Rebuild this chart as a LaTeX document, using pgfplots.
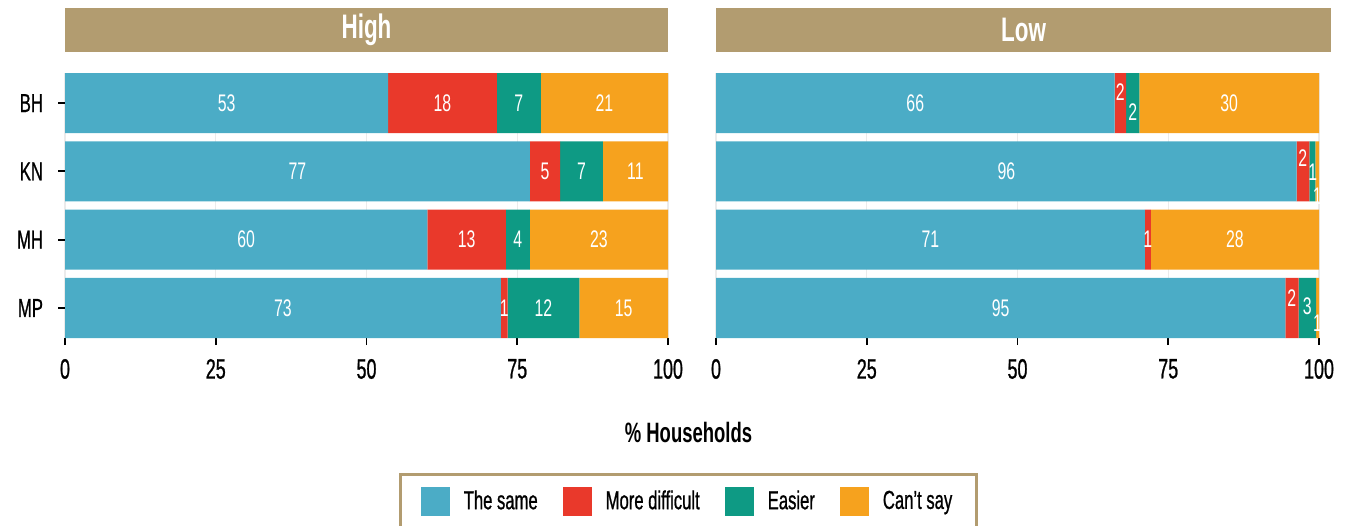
\documentclass[border=0pt]{standalone}
\usepackage{pgfplots}
\pgfplotsset{compat=1.18}
\usepackage{fontspec}
\setmainfont{Liberation Sans}[FakeStretch=0.66]
\newfontfamily\medfont{Liberation Sans}[FakeStretch=0.64, FakeBold=0.8]
\definecolor{csame}{RGB}{75,172,198}
\definecolor{cdiff}{RGB}{233,57,43}
\definecolor{ceasy}{RGB}{14,154,132}
\definecolor{ccant}{RGB}{246,162,30}
\definecolor{striptan}{RGB}{178,156,112}
\pgfplotsset{
  geom/.style={
    scale only axis, width=301.5pt, height=132.5pt,
    xmin=0, xmax=100, ymin=-0.44, ymax=3.44, y dir=reverse,
    enlargelimits=false,
  },
  panel/.style={
    geom,
    xbar stacked, bar width=0.88,
    xtick={0,25,50,75,100}, xticklabels={0,25,50,75,100},
    ytick={0,1,2,3},
    axis x line*=bottom, axis y line*=left, axis line style={draw=none},
    tick align=outside, major tick length=3.5pt,
    tick style={black, line width=0.9pt},
    xmajorgrids, grid style={black!8, line width=0.6pt},
    xticklabel style={font=\medfont\fontsize{14}{16}\selectfont, yshift=-3.5pt},
    yticklabel style={font=\medfont\fontsize{13}{15}\selectfont},
    every axis title/.style={at={(0.5,1)}, anchor=south, yshift=10.5pt,
      fill=striptan, text=white, inner sep=0pt, minimum height=22pt,
      font=\bfseries\fontsize{17}{19}\selectfont},
  },
  labpanel/.style={
    geom, hide axis, clip=false,
  },
  labs/.style={only marks, mark=none, nodes near coords, point meta=explicit symbolic,
    nodes near coords style={anchor=center, text=white, inner sep=0pt,
      font=\fontsize{12}{14}\selectfont}},
}
\begin{document}
\begin{tikzpicture}
\useasboundingbox (0,0) rectangle (674pt,-262.5pt);
% ---------------- High ----------------
\begin{axis}[panel, at={(32.5pt,-36.5pt)}, anchor=north west,
  title={High}, title style={minimum width=301.5pt},
  yticklabels={BH,KN,MH,MP}, yticklabel style={xshift=-4pt},
  legend style={at={(1.034,-0.509)}, anchor=north, legend columns=4,
    draw=striptan, line width=1.5pt, font=\medfont\fontsize{13}{15}\selectfont,
    inner xsep=10pt, inner ysep=6pt,
    /tikz/every odd column/.append style={column sep=5pt},
    /tikz/every even column/.append style={column sep=10.5pt}},
  legend image code/.code={\fill[#1] (0pt,-7.25pt) rectangle (14.5pt,7.25pt);},
]
\addplot[fill=csame, draw=none] coordinates {(53.6,0) (77.1,1) (60.1,2) (72.3,3)};
\addplot[fill=cdiff, draw=none] coordinates {(18.0,0) (5.0,1) (13.0,2) (1.1,3)};
\addplot[fill=ceasy, draw=none] coordinates {(7.3,0) (7.1,1) (4.0,2) (11.9,3)};
\addplot[fill=ccant, draw=none] coordinates {(21.1,0) (10.8,1) (22.9,2) (14.7,3)};
\legend{The same, More difficult, Easier, Can’t say}
\end{axis}
\begin{axis}[labpanel, at={(32.5pt,-36.5pt)}, anchor=north west]
\addplot[labs] table[meta=lab] {
x y lab
26.8 0 53
62.6 0 18
75.25 0 7
89.45 0 21
38.55 1 77
79.6 1 5
85.65 1 7
94.6 1 11
30.05 2 60
66.6 2 13
75.1 2 4
88.55 2 23
36.15 3 73
72.85 3 1
79.35 3 12
92.65 3 15
};
\end{axis}
% ---------------- Low ----------------
\begin{axis}[panel, at={(358pt,-36.5pt)}, anchor=north west,
  title={Low}, title style={minimum width=307.5pt, xshift=3pt},
  yticklabels={}, ytick style={draw=none},
]
\addplot[fill=csame, draw=none] coordinates {(66.1,0) (96.3,1) (71.1,2) (94.4,3)};
\addplot[fill=cdiff, draw=none] coordinates {(1.9,0) (2.1,1) (1.0,2) (2.2,3)};
\addplot[fill=ceasy, draw=none] coordinates {(2.2,0) (1.0,1) (0.0,2) (2.9,3)};
\addplot[fill=ccant, draw=none] coordinates {(29.8,0) (0.6,1) (27.9,2) (0.5,3)};
\end{axis}
\begin{axis}[labpanel, at={(358pt,-36.5pt)}, anchor=north west]
\addplot[labs] table[meta=lab] {
x y lab
33.05 0 66
67.05 -0.16 2
69.1 0.13 2
85.1 0 30
48.15 1 96
97.3 0.8 2
98.95 1.01 1
99.7 1.37 1
35.55 2 71
71.6 2 1
86.05 2 28
47.2 3 95
95.5 2.85 2
98.05 2.97 3
99.75 3.22 1
};
\end{axis}
\node[font=\bfseries\fontsize{14}{16}\selectfont] at (344.25pt,-216pt) {\% Households};
\end{tikzpicture}
\end{document}
